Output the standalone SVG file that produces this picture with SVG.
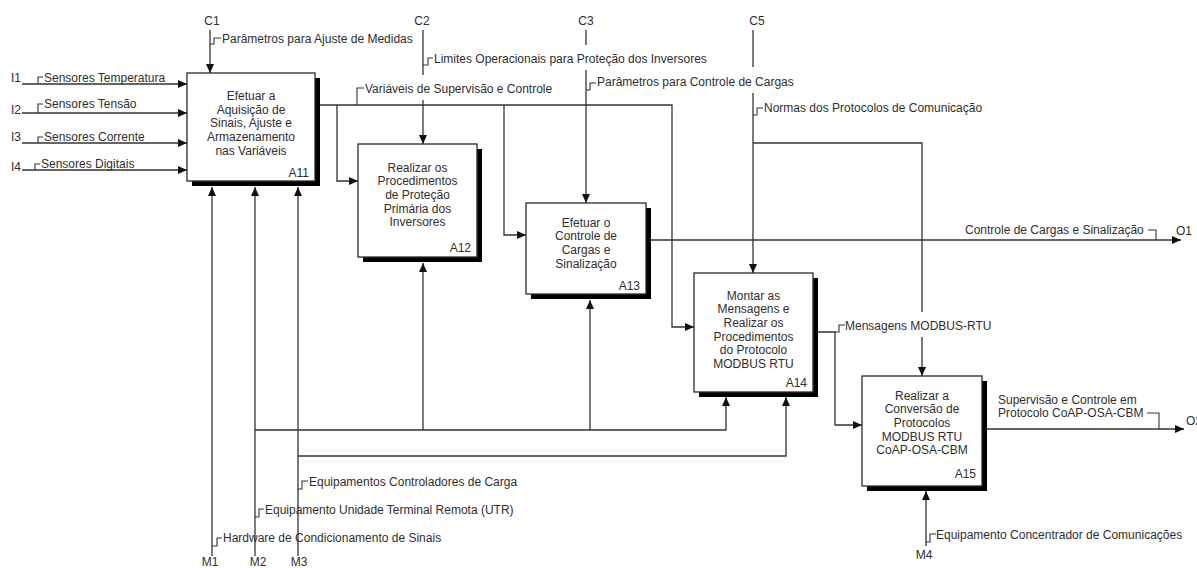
<svg xmlns="http://www.w3.org/2000/svg" width="1197" height="568" viewBox="0 0 1197 568">
  <style>
    text { font-family: "Liberation Sans", Arial, sans-serif; font-size: 12px; fill: #2e2e2e; }
    .c { text-anchor: middle; }
    .r { text-anchor: end; }
    .box { fill: #ffffff; stroke: #2a2a2a; stroke-width: 1.3; }
    .shadow { fill: #000000; }
    .wire { fill: none; stroke: #333333; stroke-width: 1.3; }
    .arrow { marker-end: url(#head); }
    .leader { fill: none; stroke: #333333; stroke-width: 1.1; }
  </style>
  <defs>
    <marker id="head" markerUnits="userSpaceOnUse" markerWidth="9" markerHeight="8" refX="9" refY="4" orient="auto">
      <path d="M0,0 L9,4 L0,8 z" fill="#111111"/>
    </marker>
  </defs>

  <rect width="1197" height="568" fill="#ffffff"/>

  <!-- connectors: inputs, controls, outputs and mechanisms -->
  <g id="connectors">
    <!-- inputs to A11 -->
    <path class="wire arrow" d="M22,84 H187"/>
    <path class="wire arrow" d="M22,113 H187"/>
    <path class="wire arrow" d="M22,143 H187"/>
    <path class="wire arrow" d="M22,170 H187"/>
    <path class="leader" d="M38,84 V77 H43"/>
    <path class="leader" d="M38,113 V104 H43"/>
    <path class="leader" d="M38,143 V137 H43"/>
    <path class="leader" d="M35,170 V164 H40"/>

    <!-- controls -->
    <path class="wire arrow" d="M210,30 V73"/>
    <path class="leader" d="M210,44 H214 V38 H221"/>

    <path class="wire" d="M423,30 V75"/>
    <path class="wire arrow" d="M423,100 V144"/>
    <path class="leader" d="M423,65 H428 V58 H433"/>

    <path class="wire" d="M586,30 V45"/>
    <path class="wire arrow" d="M586,70 V203"/>
    <path class="leader" d="M586,90 H590 V83 H596"/>

    <path class="wire" d="M753,30 V67"/>
    <path class="wire arrow" d="M753,93 V273"/>
    <path class="wire" d="M753,143 H922 V312"/>
    <path class="wire arrow" d="M922,337 V376"/>
    <path class="leader" d="M753,115 H757 V108 H763"/>

    <!-- A11 output: supervision and control variables -->
    <path class="wire arrow" d="M315,105 H672 V327 H694"/>
    <path class="wire arrow" d="M337,105 V181 H358"/>
    <path class="wire arrow" d="M504,105 V235 H526"/>
    <path class="leader" d="M357,105 V88 H364"/>

    <!-- A13 output -->
    <path class="wire arrow" d="M646,240 H1181"/>
    <path class="leader" d="M1148,230 H1156 V240"/>

    <!-- A14 output -->
    <path class="wire arrow" d="M813,332 H835 V425 H862"/>
    <path class="leader" d="M835,332 H839 V325 H845"/>

    <!-- A15 output -->
    <path class="wire arrow" d="M982,429 H1184"/>
    <path class="leader" d="M1147,413 H1159 V429"/>

    <!-- mechanisms -->
    <path class="wire arrow" d="M212,556 V187"/>
    <path class="leader" d="M212,546 H217 V538 H222"/>

    <path class="wire arrow" d="M255,556 V187"/>
    <path class="wire arrow" d="M255,430 H726 V397"/>
    <path class="wire arrow" d="M423,430 V263"/>
    <path class="wire arrow" d="M590,430 V300"/>
    <path class="leader" d="M255,517 H259 V509 H264"/>

    <path class="wire arrow" d="M298,556 V187"/>
    <path class="wire arrow" d="M298,456 H786 V397"/>
    <path class="leader" d="M298,489 H302 V481 H308"/>

    <path class="wire arrow" d="M926,546 V491"/>
    <path class="leader" d="M926,542 H930 V534 H936"/>
  </g>

  <!-- arrow labels -->
  <g id="arrow-labels">
    <text x="11" y="82">I1</text>
    <text x="44" y="81.5">Sensores Temperatura</text>
    <text x="11" y="114">I2</text>
    <text x="44" y="107.5">Sensores Tensão</text>
    <text x="11" y="141">I3</text>
    <text x="44" y="140.5">Sensores Corrente</text>
    <text x="11" y="171">I4</text>
    <text x="41" y="167.5">Sensores Digitais</text>

    <text class="c" x="212" y="24.5">C1</text>
    <text x="222" y="42.5">Parâmetros para Ajuste de Medidas</text>
    <text class="c" x="422" y="24.5">C2</text>
    <text x="434" y="62.5">Limites Operacionais para Proteção dos Inversores</text>
    <text x="365" y="92.5">Variáveis de Supervisão e Controle</text>
    <text class="c" x="586" y="24.5">C3</text>
    <text x="597" y="85.5">Parâmetros para Controle de Cargas</text>
    <text class="c" x="757" y="24.5">C5</text>
    <text x="764" y="111.5">Normas dos Protocolos de Comunicação</text>

    <text x="965" y="234">Controle de Cargas e Sinalização</text>
    <text x="1176" y="235">O1</text>
    <text x="845" y="329.5">Mensagens MODBUS-RTU</text>
    <text x="998" y="403.5">Supervisão e Controle em</text>
    <text x="998" y="416.5">Protocolo CoAP-OSA-CBM</text>
    <text x="1186" y="424.5">O2</text>

    <text x="309" y="485.5">Equipamentos Controladores de Carga</text>
    <text x="265" y="513.5">Equipamento Unidade Terminal Remota (UTR)</text>
    <text x="223" y="541.5">Hardware de Condicionamento de Sinais</text>
    <text x="936" y="538.5">Equipamento Concentrador de Comunicações</text>
    <text class="c" x="210" y="566">M1</text>
    <text class="c" x="258" y="566">M2</text>
    <text class="c" x="299" y="566">M3</text>
    <text class="c" x="924" y="559">M4</text>
  </g>

  <!-- A11 -->
  <g id="A11">
    <rect class="shadow" x="192" y="78" width="128" height="108"/>
    <rect class="box" x="187" y="73" width="128" height="108"/>
    <text class="c" x="251" y="100">Efetuar a</text>
    <text class="c" x="251" y="113.7">Aquisição de</text>
    <text class="c" x="251" y="127.4">Sinais, Ajuste e</text>
    <text class="c" x="251" y="141.1">Armazenamento</text>
    <text class="c" x="251" y="154.8">nas Variáveis</text>
    <text class="r" x="309" y="177">A11</text>
  </g>

  <!-- A12 -->
  <g id="A12">
    <rect class="shadow" x="363" y="149" width="119" height="113"/>
    <rect class="box" x="358" y="144" width="119" height="113"/>
    <text class="c" x="417.5" y="171.5">Realizar os</text>
    <text class="c" x="417.5" y="185.2">Procedimentos</text>
    <text class="c" x="417.5" y="198.9">de Proteção</text>
    <text class="c" x="417.5" y="212.6">Primária dos</text>
    <text class="c" x="417.5" y="226.3">Inversores</text>
    <text class="r" x="471" y="251.5">A12</text>
  </g>

  <!-- A13 -->
  <g id="A13">
    <rect class="shadow" x="531" y="208" width="120" height="91"/>
    <rect class="box" x="526" y="203" width="120" height="91"/>
    <text class="c" x="586" y="226.5">Efetuar o</text>
    <text class="c" x="586" y="240.2">Controle de</text>
    <text class="c" x="586" y="253.9">Cargas e</text>
    <text class="c" x="586" y="267.6">Sinalização</text>
    <text class="r" x="640" y="289.5">A13</text>
  </g>

  <!-- A14 -->
  <g id="A14">
    <rect class="shadow" x="699" y="278" width="119" height="119"/>
    <rect class="box" x="694" y="273" width="119" height="119"/>
    <text class="c" x="753.5" y="299.5">Montar as</text>
    <text class="c" x="753.5" y="313.2">Mensagens e</text>
    <text class="c" x="753.5" y="326.9">Realizar os</text>
    <text class="c" x="753.5" y="340.6">Procedimentos</text>
    <text class="c" x="753.5" y="354.3">do Protocolo</text>
    <text class="c" x="753.5" y="368">MODBUS RTU</text>
    <text class="r" x="807" y="386.5">A14</text>
  </g>

  <!-- A15 -->
  <g id="A15">
    <rect class="shadow" x="867" y="381" width="120" height="110"/>
    <rect class="box" x="862" y="376" width="120" height="110"/>
    <text class="c" x="922" y="399.5">Realizar a</text>
    <text class="c" x="922" y="413.2">Conversão de</text>
    <text class="c" x="922" y="426.9">Protocolos</text>
    <text class="c" x="922" y="440.6">MODBUS RTU</text>
    <text class="c" x="922" y="454.3">CoAP-OSA-CBM</text>
    <text class="r" x="976" y="477.5">A15</text>
  </g>
</svg>
